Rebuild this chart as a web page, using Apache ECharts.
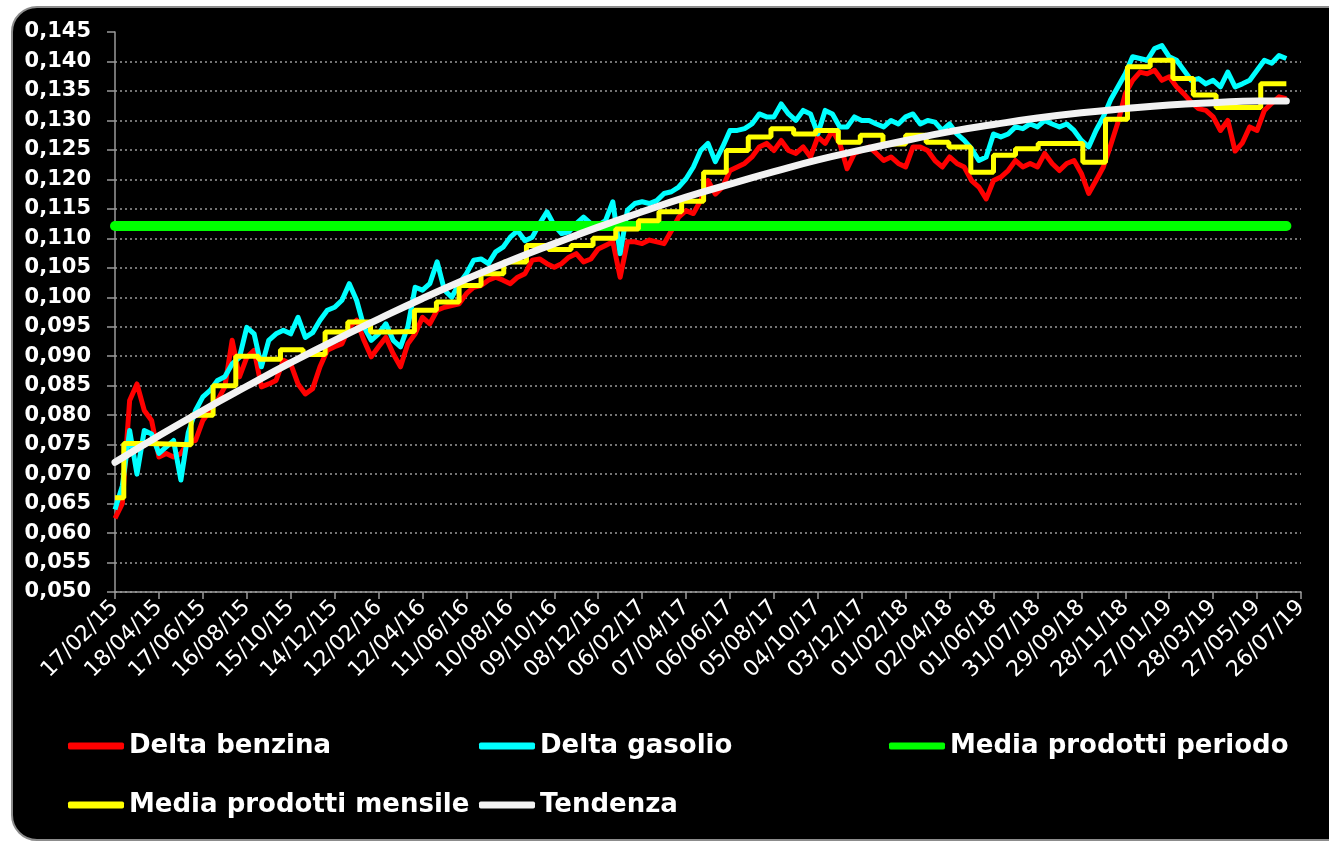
<!DOCTYPE html>
<html><head><meta charset="utf-8">
<script src="https://cdn.jsdelivr.net/npm/echarts@6/dist/echarts.min.js"></script>
<style>
html,body{margin:0;padding:0;background:#fff;width:1329px;height:842px;overflow:hidden;}
#frame{position:absolute;left:11px;top:6px;width:1360px;height:831px;background:#000;border:2px solid #8c8c8c;border-radius:26px;}
#chart{position:absolute;left:0;top:0;width:1329px;height:842px;}
</style></head><body>
<div id="frame"></div><div id="chart"></div>
<script>
// ---- data ----
const START = '2015-02-17';
const axisEndDay = 1620;      // 26/07/19
const tickDays = 60;
const yTicks = { min: 0.050, max: 0.145, step: 0.005 };
const sampleStepDays = 10;    // spacing of the daily-series readings below
const benzina = [
0.0625,0.0650,0.0825,0.0853,0.0808,0.0791,0.0729,0.0735,0.0729,0.0735,
0.0755,0.0757,0.0791,0.0808,0.0825,0.0848,0.0927,0.0865,0.0898,0.0910,
0.0848,0.0853,0.0859,0.0893,0.0887,0.0853,0.0836,0.0845,0.0882,0.0910,
0.0916,0.0921,0.0949,0.0961,0.0927,0.0899,0.0916,0.0932,0.0904,0.0882,
0.0921,0.0938,0.0966,0.0955,0.0978,0.0983,0.0986,0.0989,0.1006,0.1017,
0.1020,0.1029,0.1034,0.1029,0.1023,0.1034,0.1040,0.1063,0.1065,0.1057,
0.1051,0.1057,0.1068,0.1074,0.1060,0.1065,0.1082,0.1088,0.1094,0.1034,
0.1094,0.1094,0.1091,0.1097,0.1094,0.1091,0.1113,0.1136,0.1147,0.1142,
0.1164,0.1198,0.1175,0.1187,0.1215,0.1221,0.1227,0.1238,0.1255,0.1261,
0.1249,0.1266,0.1249,0.1244,0.1255,0.1238,0.1272,0.1261,0.1283,0.1261,
0.1218,0.1244,0.1249,0.1255,0.1244,0.1232,0.1238,0.1227,0.1221,0.1255,
0.1255,0.1249,0.1232,0.1221,0.1238,0.1227,0.1221,0.1198,0.1187,0.1167,
0.1198,0.1204,0.1215,0.1232,0.1221,0.1227,0.1221,0.1244,0.1227,0.1215,
0.1227,0.1232,0.1210,0.1176,0.1198,0.1221,0.1258,0.1297,0.1345,0.1368,
0.1382,0.1379,0.1385,0.1368,0.1374,0.1357,0.1345,0.1331,0.1320,0.1317,
0.1306,0.1283,0.1300,0.1248,0.1262,0.1289,0.1283,0.1317,0.1329,0.1340,
0.1337];
const gasolio = [
0.0640,0.0680,0.0774,0.0700,0.0774,0.0768,0.0735,0.0746,0.0757,0.0690,
0.0770,0.0808,0.0831,0.0842,0.0859,0.0865,0.0887,0.0898,0.0949,0.0938,
0.0882,0.0927,0.0938,0.0944,0.0938,0.0966,0.0932,0.0940,0.0961,0.0978,
0.0983,0.0995,0.1023,0.0995,0.0950,0.0927,0.0938,0.0955,0.0927,0.0916,
0.0950,0.1017,0.1012,0.1023,0.1060,0.1012,0.1000,0.1023,0.1040,0.1063,
0.1065,0.1057,0.1077,0.1085,0.1102,0.1113,0.1096,0.1102,0.1125,0.1145,
0.1122,0.1108,0.1111,0.1125,0.1136,0.1125,0.1122,0.1130,0.1162,0.1074,
0.1148,0.1159,0.1162,0.1159,0.1164,0.1176,0.1179,0.1187,0.1201,0.1221,
0.1249,0.1261,0.1230,0.1255,0.1283,0.1283,0.1286,0.1294,0.1311,0.1306,
0.1306,0.1328,0.1311,0.1300,0.1317,0.1311,0.1277,0.1317,0.1311,0.1289,
0.1289,0.1306,0.1300,0.1300,0.1294,0.1289,0.1300,0.1294,0.1306,0.1311,
0.1294,0.1300,0.1297,0.1283,0.1294,0.1277,0.1266,0.1252,0.1232,0.1238,
0.1277,0.1272,0.1277,0.1289,0.1286,0.1294,0.1289,0.1300,0.1294,0.1289,
0.1294,0.1283,0.1266,0.1255,0.1283,0.1306,0.1335,0.1357,0.1379,0.1408,
0.1405,0.1402,0.1422,0.1427,0.1408,0.1402,0.1385,0.1368,0.1371,0.1362,
0.1368,0.1357,0.1382,0.1357,0.1362,0.1368,0.1385,0.1402,0.1397,0.1410,
0.1405];
const mediaPeriodo = 0.1121;
const dataEndDay = 1600;
// monthly averages, Feb 2015 .. Jul 2019
const mediaMensile = [
0.0660,0.0752,0.0751,0.0750,0.0800,0.0850,0.0900,0.0895,0.0911,0.0903,0.0941,
0.0958,0.0941,0.0942,0.0978,0.0992,0.1020,0.1040,0.1060,0.1088,0.1081,0.1088,0.1100,
0.1116,0.1130,0.1145,0.1163,0.1212,0.1249,0.1272,0.1286,0.1277,0.1283,0.1263,0.1275,
0.1260,0.1275,0.1263,0.1255,0.1212,0.1241,0.1252,0.1261,0.1261,0.1229,0.1302,0.1391,
0.1402,0.1371,0.1343,0.1322,0.1322,0.1362,0.1362];
const trendDays = [0,60,120,180,240,300,360,420,480,540,600,660,720,780,840,900,960,1020,1080,1140,1200,1260,1320,1380,1440,1500,1560,1600];
const tendenza = [0.0720,0.0765,0.0808,0.0849,0.0889,0.0927,0.0963,0.0998,0.1031,0.1062,0.1091,0.1119,0.1145,0.1170,0.1192,0.1213,0.1233,0.1250,0.1266,0.1281,0.1293,0.1304,0.1313,0.1320,0.1326,0.1330,0.1333,0.1333];

// ---- helpers ----
const DAY = 86400000;
const t0 = Date.parse(START + 'T00:00:00Z');
function dayOf(y, m, d) { return Math.round((Date.UTC(y, m, d) - t0) / DAY); }
function pad(n) { return (n < 10 ? '0' : '') + n; }
function fmtDay(v) {
  const d = new Date(t0 + v * DAY);
  return pad(d.getUTCDate()) + '/' + pad(d.getUTCMonth() + 1) + '/' + pad(d.getUTCFullYear() % 100);
}

const redData = benzina.map((v, i) => [i * sampleStepDays, v]);
const cyanData = gasolio.map((v, i) => [i * sampleStepDays, v]);
const monthData = mediaMensile.map((v, i) => [i === 0 ? 0 : dayOf(2015, 1 + i, 1), v]);
monthData.push([dataEndDay, mediaMensile[mediaMensile.length - 1]]);
const greenData = [[0, mediaPeriodo], [dataEndDay, mediaPeriodo]];
const trendData = tendenza.map((v, i) => [trendDays[i], v]);

const FONT = 'DejaVu Sans';
const legendText = { color: '#fff', fontFamily: FONT, fontWeight: 'bold', fontSize: 26, lineHeight: 30 };
function leg(name, left, top) {
  return { data: [name], left: left, top: top, icon: 'roundRect', itemWidth: 56, itemHeight: 7,
           padding: 0, itemGap: 0, selectedMode: false, textStyle: legendText };
}

const chart = echarts.init(document.getElementById('chart'), null, { renderer: 'canvas' });
chart.setOption({
  backgroundColor: 'transparent',
  animation: false,
  grid: { left: 115, right: 28, top: 32, bottom: 250 },
  legend: [
    leg('Delta benzina', 68, 731),
    leg('Delta gasolio', 479, 731),
    leg('Media prodotti periodo', 889, 731),
    leg('Media prodotti mensile', 68, 790),
    leg('Tendenza', 479, 790)
  ],
  xAxis: {
    type: 'value', min: 0, max: axisEndDay, interval: tickDays,
    axisLine: { show: true, lineStyle: { color: '#9a9a9a', width: 1.5 } },
    axisTick: { show: true, length: 7, lineStyle: { color: '#9a9a9a', width: 1.5 } },
    axisLabel: { rotate: 45, color: '#fff', fontFamily: FONT, fontSize: 22, margin: 12, formatter: fmtDay },
    splitLine: { show: false }
  },
  yAxis: {
    type: 'value', min: yTicks.min, max: yTicks.max, interval: yTicks.step,
    axisLine: { show: true, lineStyle: { color: '#9a9a9a', width: 1.5 } },
    axisTick: { show: true, length: 8, lineStyle: { color: '#9a9a9a', width: 1.5 } },
    axisLabel: { color: '#fff', fontFamily: FONT, fontWeight: 'bold', fontSize: 21, margin: 24,
                 formatter: v => v.toFixed(3).replace('.', ',') },
    splitLine: { show: true, showMaxLine: false, lineStyle: { color: '#9a9a9a', width: 1.5, type: [2, 3] } }
  },
  series: [
    { name: 'Delta benzina', type: 'line', data: redData, symbol: 'none', color: '#ff0000', z: 2,
      lineStyle: { width: 5, color: '#ff0000', join: 'round' } },
    { name: 'Delta gasolio', type: 'line', data: cyanData, symbol: 'none', color: '#00ffff', z: 3,
      lineStyle: { width: 5, color: '#00ffff', join: 'round' } },
    { name: 'Media prodotti periodo', type: 'line', data: greenData, symbol: 'none', color: '#00ff00', z: 4,
      lineStyle: { width: 10, color: '#00ff00', cap: 'round' } },
    { name: 'Media prodotti mensile', type: 'line', data: monthData, step: 'end', symbol: 'none', color: '#ffff00', z: 5,
      lineStyle: { width: 5, color: '#ffff00' } },
    { name: 'Tendenza', type: 'line', data: trendData, smooth: true, symbol: 'none', color: '#f2f2f2', z: 6,
      lineStyle: { width: 7, color: '#f2f2f2', cap: 'round' } }
  ]
});
</script>
</body></html>
